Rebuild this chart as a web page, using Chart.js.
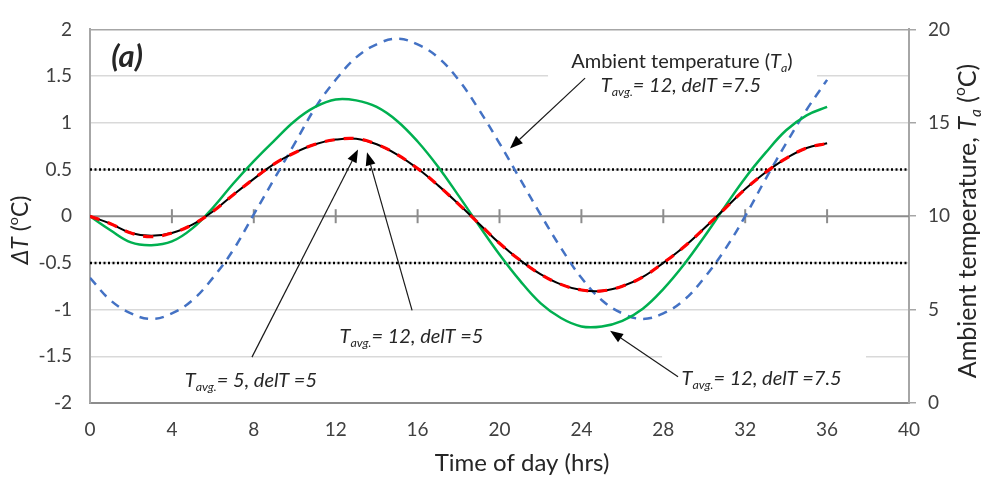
<!DOCTYPE html>
<html>
<head>
<meta charset="utf-8">
<script src="https://cdn.jsdelivr.net/npm/chart.js@4.4.1/dist/chart.umd.min.js"></script>
<style>body{margin:0;background:#fff}</style>
</head>
<body>
<canvas id="c" width="982" height="479"></canvas>
<script>
// ================= DATA =================
const hours = [0,1,2,3,4,5,6,7,8,9,10,11,12,13,14,15,16,17,18,19,20,21,22,23,24,25,26,27,28,29,30,31,32,33,34,35,36];

// dT (C), Tavg=12 delT=5 (red dashed)
const dT_12_5 = [0,-0.08,-0.18,-0.22,-0.18,-0.09,0.05,0.23,0.40,0.56,0.68,0.77,0.82,0.83,0.77,0.66,0.51,0.33,0.13,-0.08,-0.29,-0.47,-0.62,-0.73,-0.79,-0.80,-0.75,-0.65,-0.50,-0.33,-0.13,0.08,0.29,0.47,0.62,0.73,0.78];
// dT (C), Tavg=5 delT=5 (black)
const dT_5_5 = [0,-0.08,-0.18,-0.21,-0.18,-0.09,0.05,0.23,0.40,0.56,0.68,0.77,0.82,0.83,0.77,0.66,0.51,0.33,0.13,-0.08,-0.29,-0.47,-0.62,-0.73,-0.79,-0.80,-0.75,-0.65,-0.50,-0.33,-0.13,0.08,0.29,0.47,0.62,0.73,0.78];
// dT (C), Tavg=12 delT=7.5 (green)
const dT_12_75 = [0,-0.15,-0.28,-0.31,-0.27,-0.13,0.09,0.35,0.59,0.81,1.02,1.17,1.25,1.24,1.17,1.02,0.80,0.53,0.22,-0.10,-0.41,-0.69,-0.93,-1.09,-1.18,-1.18,-1.12,-0.99,-0.78,-0.52,-0.22,0.10,0.41,0.68,0.92,1.08,1.17];
// ambient temperature Ta (C), right axis (blue dashed)
const ambientT = [6.7,5.5,4.8,4.5,4.8,5.5,6.7,8.2,10.1,12.0,13.9,15.8,17.3,18.5,19.2,19.5,19.2,18.5,17.3,15.7,13.9,12.0,10.1,8.3,6.7,5.5,4.8,4.5,4.8,5.5,6.7,8.2,10.0,12.0,13.9,15.7,17.3];

// dotted reference levels
const refLevels = [0.5, -0.5];
const refSpan = [0, 40];

// ticks on the zero line
const zeroTicks = [4,8,12,16,20,24,28,32,36];

// annotations (data units: x = hrs, y = dT)
const arrows = [
  [24.18, 1.478, 20.51, 0.726],
  [7.91, -1.509, 13.09, 0.715],
  [15.73, -1.008, 13.53, 0.684],
  [28.72, -1.718, 25.40, -1.227]
];
const whiteBoxes = [
  [22.37, 1.79, 35.51, 1.217],
  [27.94, -1.394, 37.90, -1.985]
];

const FONT = "Lato";
const TXT = "#262626";

function pts(ys){ return hours.map((h,i)=>({x:h, y:ys[i]})); }

// ================= RICH TEXT =================
function rich(ctx, parts, x, y, size, align){
  let w = 0;
  const info = parts.map(p=>{
    const small = p.sub || p.sup;
    const sz = small ? size*0.62 : size;
    const f = (p.i?'italic ':'') + (p.b?'bold ':'') + sz + 'px ' + FONT;
    ctx.font = f;
    const pw = ctx.measureText(p.t).width;
    w += pw;
    return {f, pw, dy: p.sub ? size*0.3 : p.sup ? -size*0.33 : 0};
  });
  let cx = align==='center' ? x - w/2 : align==='right' ? x - w : x;
  ctx.textAlign = 'left';
  ctx.textBaseline = 'middle';
  parts.forEach((p,i)=>{
    ctx.font = info[i].f;
    ctx.fillText(p.t, cx, y + info[i].dy);
    cx += info[i].pw;
  });
}

function arrow(ctx, x1, y1, x2, y2){
  const a = Math.atan2(y2-y1, x2-x1), L = 13, W = 5;
  const bx = x2 - L*Math.cos(a), by = y2 - L*Math.sin(a);
  ctx.strokeStyle = '#1a1a1a';
  ctx.fillStyle = '#000';
  ctx.lineWidth = 1.2;
  ctx.beginPath(); ctx.moveTo(x1,y1); ctx.lineTo(bx,by); ctx.stroke();
  ctx.beginPath();
  ctx.moveTo(x2,y2);
  ctx.lineTo(bx + W*Math.sin(a), by - W*Math.cos(a));
  ctx.lineTo(bx - W*Math.sin(a), by + W*Math.cos(a));
  ctx.closePath(); ctx.fill();
}

const tavg = (rest)=>[{t:'T',i:1},{t:'avg.',i:1,sub:1},{t:rest,i:1}];

// ================= PLUGIN =================
const extras = {
  id: 'extras',
  beforeDatasetsDraw(chart){
    const ctx = chart.ctx, xs = chart.scales.x, ys = chart.scales.y, ca = chart.chartArea;
    ctx.save();
    // white label boxes over the gridlines
    ctx.fillStyle = '#fff';
    whiteBoxes.forEach(b=>{
      const x1 = xs.getPixelForValue(b[0]), y1 = ys.getPixelForValue(b[1]);
      const x2 = xs.getPixelForValue(b[2]), y2 = ys.getPixelForValue(b[3]);
      ctx.fillRect(x1, y1, x2-x1, y2-y1);
    });
    // zero line with tick marks
    const y0 = ys.getPixelForValue(0);
    ctx.strokeStyle = '#8c8c8c';
    ctx.lineWidth = 2;
    ctx.beginPath(); ctx.moveTo(ca.left, y0); ctx.lineTo(ca.right, y0); ctx.stroke();
    zeroTicks.forEach(v=>{
      const px = xs.getPixelForValue(v);
      ctx.beginPath(); ctx.moveTo(px, y0-7); ctx.lineTo(px, y0+7); ctx.stroke();
    });
    ctx.restore();
  },
  afterDraw(chart){
    const ctx = chart.ctx, xs = chart.scales.x, ys = chart.scales.y;
    const X = v=>xs.getPixelForValue(v), Y = v=>ys.getPixelForValue(v);
    ctx.save();
    ctx.fillStyle = TXT;

    // panel letter
    rich(ctx, [{t:'(a)', i:1, b:1}], X(1.81), Y(1.70), 31, 'center');

    // annotation texts
    rich(ctx, [{t:'Ambient temperature ('},{t:'T',i:1},{t:'a',i:1,sub:1},{t:')'}], X(28.91), Y(1.654), 20, 'center');
    rich(ctx, tavg('= 12, delT =7.5'), X(28.86), Y(1.394), 20, 'center');
    rich(ctx, tavg('= 12, delT =5'), X(15.70), Y(-1.290), 20, 'center');
    rich(ctx, tavg('= 5, delT =5'), X(7.86), Y(-1.760), 20, 'center');
    rich(ctx, tavg('= 12, delT =7.5'), X(32.80), Y(-1.739), 20, 'center');

    arrows.forEach(a=>arrow(ctx, X(a[0]), Y(a[1]), X(a[2]), Y(a[3])));

    // axis titles
    ctx.fillStyle = TXT;
    rich(ctx, [{t:'Time of day (hrs)'}], 522, 463, 24, 'center');

    ctx.save();
    ctx.translate(21, 230);
    ctx.rotate(-Math.PI/2);
    rich(ctx, [{t:'\u0394T',i:1},{t:' ('},{t:'o',sup:1},{t:'C)'}], 0, 0, 23, 'center');
    ctx.restore();

    ctx.save();
    ctx.translate(968, 221);
    ctx.rotate(-Math.PI/2);
    rich(ctx, [{t:'Ambient temperature, '},{t:'T',i:1},{t:'a',i:1,sub:1},{t:' ('},{t:'o',sup:1},{t:'C)'}], 0, 0, 25, 'center');
    ctx.restore();

    ctx.restore();
  }
};

// ================= DATASETS =================
const datasets = [
  {label:'Tavg=12, delT=5', data:pts(dT_12_5), borderColor:'#ff0000', borderWidth:3.2, borderDash:[10,9], yAxisID:'y'},
  {label:'Tavg=5, delT=5', data:pts(dT_5_5), borderColor:'#000000', borderWidth:2, yAxisID:'y'},
  {label:'Tavg=12, delT=7.5', data:pts(dT_12_75), borderColor:'#00b050', borderWidth:2.5, yAxisID:'y'},
  {label:'Ambient', data:pts(ambientT), borderColor:'#4472c4', borderWidth:2.5, borderDash:[9,7], yAxisID:'y2'}
];
refLevels.forEach(v=>{
  datasets.push({label:'ref '+v, data:refSpan.map(x=>({x:x, y:v})), borderColor:'#000', borderWidth:2.5, borderDash:[2,2.5], tension:0, yAxisID:'y'});
});

const tickFont = {family: FONT, size: 19};

new Chart(document.getElementById('c'), {
  type: 'line',
  data: {datasets: datasets},
  options: {
    responsive: false,
    animation: false,
    layout: {padding: {top: 20, left: 0, right: 0, bottom: 0}},
    elements: {point: {radius: 0}, line: {tension: 0.4, fill: false}},
    plugins: {legend: {display: false}, tooltip: {enabled: false}},
    scales: {
      x: {
        type: 'linear', min: 0, max: 40,
        ticks: {stepSize: 4, color: '#404040', font: tickFont, padding: 7, maxRotation: 0},
        grid: {display: false},
        border: {display: true, color: '#8c8c8c', width: 2},
        afterFit: s=>{ s.height = 76; }
      },
      y: {
        position: 'left', min: -2, max: 2,
        ticks: {stepSize: 0.5, color: '#404040', font: tickFont, padding: 18, callback: v=>String(v)},
        grid: {
          drawTicks: false, lineWidth: 1.5,
          color: c=>{ const v = c.tick && c.tick.value; return v===2 ? '#a6a6a6' : (v===0 || v===-2) ? 'rgba(0,0,0,0)' : '#d9d9d9'; }
        },
        border: {display: true, color: '#a6a6a6', width: 2},
        afterFit: s=>{ s.width = 90; }
      },
      y2: {
        position: 'right', min: 0, max: 20,
        ticks: {stepSize: 5, color: '#404040', font: tickFont, padding: 12},
        grid: {drawOnChartArea: false, drawTicks: true, tickLength: 7, color: '#a6a6a6', lineWidth: 1.5},
        border: {display: true, color: '#a6a6a6', width: 2},
        afterFit: s=>{ s.width = 73; }
      }
    }
  },
  plugins: [extras]
});
</script>
</body>
</html>
